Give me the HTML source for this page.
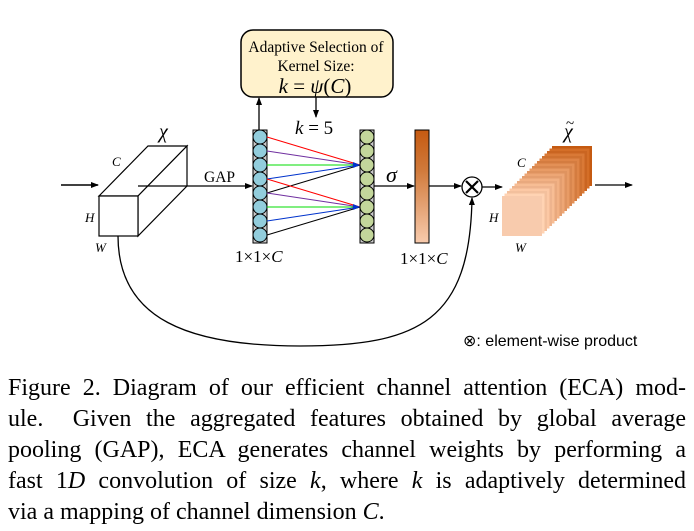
<!DOCTYPE html>
<html><head><meta charset="utf-8"><style>
html,body{margin:0;padding:0;background:#fff;}
#w{position:relative;width:694px;height:531px;overflow:hidden;}
svg{position:absolute;left:0;top:0;}
.cap{position:absolute;left:8px;top:373px;width:678px;font-family:"Liberation Serif",serif;font-size:24px;line-height:31px;color:#000;text-align:justify;}
.cap div{text-align:justify;text-align-last:justify;white-space:nowrap;}
.cap div.l{text-align-last:left;}
</style></head><body><div id="w">
<svg width="694" height="531" viewBox="0 0 694 531" font-family="Liberation Serif, serif">
<defs>
<marker id="a" markerWidth="8" markerHeight="8" refX="7" refY="4" orient="auto" markerUnits="userSpaceOnUse"><path d="M0,1 L8,4 L0,7 z" fill="#000"/></marker>
<linearGradient id="ob" x1="0" y1="0" x2="0" y2="1"><stop offset="0" stop-color="#c55a11"/><stop offset="0.35" stop-color="#d0793a"/><stop offset="1" stop-color="#f8cbad"/></linearGradient>
</defs>
<line x1="61" y1="185" x2="98" y2="185" stroke="#000" stroke-width="1.5" marker-end="url(#a)"/>
<polygon points="99,196 148,146 187,146 138,196" fill="#fff" stroke="#000" stroke-width="1.2"/>
<polygon points="138,196 187,146 187,186 138,236" fill="#fff" stroke="#000" stroke-width="1.2"/>
<rect x="99" y="196" width="39" height="40" fill="#fff" stroke="#000" stroke-width="1.2"/>
<text x="159" y="138" font-size="20" font-style="italic">χ</text>
<text x="112" y="166" font-size="13" font-style="italic">C</text>
<text x="85" y="222" font-size="13" font-style="italic">H</text>
<text x="95" y="252" font-size="13" font-style="italic">W</text>
<line x1="138" y1="186" x2="252" y2="186" stroke="#000" stroke-width="1.3" marker-end="url(#a)"/>
<text x="204" y="182" font-size="15.5">GAP</text>
<rect x="241" y="30" width="152" height="67" rx="12" fill="#fff2cc" stroke="#000" stroke-width="1.5"/>
<text x="316" y="52" font-size="15.5" text-anchor="middle">Adaptive Selection of</text>
<text x="316" y="71" font-size="15.5" text-anchor="middle">Kernel Size:</text>
<text x="315" y="93" font-size="21" text-anchor="middle"><tspan font-style="italic">k</tspan> = <tspan font-style="italic">ψ</tspan>(<tspan font-style="italic">C</tspan>)</text>
<line x1="259" y1="130" x2="259" y2="98" stroke="#000" stroke-width="1.3" marker-end="url(#a)"/>
<line x1="316" y1="97" x2="316" y2="117" stroke="#000" stroke-width="1.3" marker-end="url(#a)"/>
<text x="295" y="134" font-size="19"><tspan font-style="italic">k</tspan> = 5</text>
<rect x="253" y="130" width="14" height="113" fill="#ccc" stroke="#000" stroke-width="1"/>
<rect x="360" y="130" width="14" height="113" fill="#ccc" stroke="#000" stroke-width="1"/>
<g stroke="#000" stroke-width="1">
<circle cx="260" cy="137" r="7" fill="#92cddc"/><circle cx="260" cy="151" r="7" fill="#92cddc"/><circle cx="260" cy="165" r="7" fill="#92cddc"/><circle cx="260" cy="179" r="7" fill="#92cddc"/><circle cx="260" cy="193" r="7" fill="#92cddc"/><circle cx="260" cy="207" r="7" fill="#92cddc"/><circle cx="260" cy="221" r="7" fill="#92cddc"/><circle cx="260" cy="235" r="7" fill="#92cddc"/>
<circle cx="367" cy="137" r="7" fill="#c3d69b"/><circle cx="367" cy="151" r="7" fill="#c3d69b"/><circle cx="367" cy="165" r="7" fill="#c3d69b"/><circle cx="367" cy="179" r="7" fill="#c3d69b"/><circle cx="367" cy="193" r="7" fill="#c3d69b"/><circle cx="367" cy="207" r="7" fill="#c3d69b"/><circle cx="367" cy="221" r="7" fill="#c3d69b"/><circle cx="367" cy="235" r="7" fill="#c3d69b"/>
</g>
<g stroke-width="1">
<line x1="267" y1="137" x2="360" y2="165" stroke="#ff0000"/>
<line x1="267" y1="151" x2="360" y2="165" stroke="#7030a0"/>
<line x1="267" y1="165" x2="360" y2="165" stroke="#00dd00"/>
<line x1="267" y1="179" x2="360" y2="165" stroke="#0033cc"/>
<line x1="267" y1="193" x2="360" y2="165" stroke="#000"/>
<line x1="267" y1="179" x2="360" y2="207" stroke="#ff0000"/>
<line x1="267" y1="193" x2="360" y2="207" stroke="#7030a0"/>
<line x1="267" y1="207" x2="360" y2="207" stroke="#00dd00"/>
<line x1="267" y1="221" x2="360" y2="207" stroke="#0033cc"/>
<line x1="267" y1="235" x2="360" y2="207" stroke="#000"/>
</g>
<path d="M353,162 L360,165 L353,168 z M353,204 L360,207 L353,210 z" fill="#0033cc"/>
<text x="235" y="262" font-size="17">1×1×<tspan font-style="italic">C</tspan></text>
<line x1="374" y1="186" x2="414" y2="186" stroke="#000" stroke-width="1.3" marker-end="url(#a)"/>
<text x="386" y="182" font-size="22" font-style="italic">σ</text>
<rect x="415" y="130" width="14" height="113" fill="url(#ob)" stroke="#000" stroke-width="1"/>
<text x="400" y="264" font-size="17">1×1×<tspan font-style="italic">C</tspan></text>
<line x1="429" y1="186" x2="461" y2="186" stroke="#000" stroke-width="1.3" marker-end="url(#a)"/>
<circle cx="472" cy="187" r="10" fill="#fff" stroke="#000" stroke-width="1.3"/>
<path d="M466,181 L478,193 M478,181 L466,193" stroke="#000" stroke-width="2.2"/>
<line x1="482" y1="187" x2="502" y2="187" stroke="#000" stroke-width="1.3" marker-end="url(#a)"/>
<path d="M118,236 C118,320 190,346 300,346 C420,346 470,320 472,198" fill="none" stroke="#000" stroke-width="1.3" marker-end="url(#a)"/>
<g id="oc"></g>
<text x="564" y="138" font-size="20" font-style="italic">χ</text>
<text x="566" y="128" font-size="15">~</text>
<text x="517" y="167" font-size="13" font-style="italic">C</text>
<text x="489" y="222" font-size="13" font-style="italic">H</text>
<text x="515" y="252" font-size="13" font-style="italic">W</text>
<line x1="595" y1="185" x2="632" y2="185" stroke="#000" stroke-width="1.3" marker-end="url(#a)"/>
<text x="463" y="346" font-size="16" font-family="Liberation Sans, sans-serif">⊗: element-wise product</text>
</svg>
<div class="cap">
<div>Figure 2. Diagram of our efficient channel attention (ECA) mod-</div>
<div>ule.&nbsp; Given the aggregated features obtained by global average</div>
<div>pooling (GAP), ECA generates channel weights by performing a</div>
<div>fast 1<i>D</i> convolution of size <i>k</i>, where <i>k</i> is adaptively determined</div>
<div class="l">via a mapping of channel dimension <i>C</i>.</div>
</div>
</div>
<script>
(function(){var g=document.getElementById('oc');var N=20;var s='';
for(var i=N;i>=0;i--){var t=i/N;var dx=i*2.5,dy=-i*2.5;
var r=Math.round(248+(197-248)*t),gg=Math.round(203+(90-203)*t),b=Math.round(173+(17-173)*t);
if(i%2==1){r=Math.min(255,r+12);gg=Math.min(255,gg+14);b=Math.min(255,b+14);}
s+='<rect x="'+(502+dx)+'" y="'+(196+dy)+'" width="40" height="40" fill="rgb('+r+','+gg+','+b+')"/>';}
g.innerHTML=s;})();
</script>
</body></html>
